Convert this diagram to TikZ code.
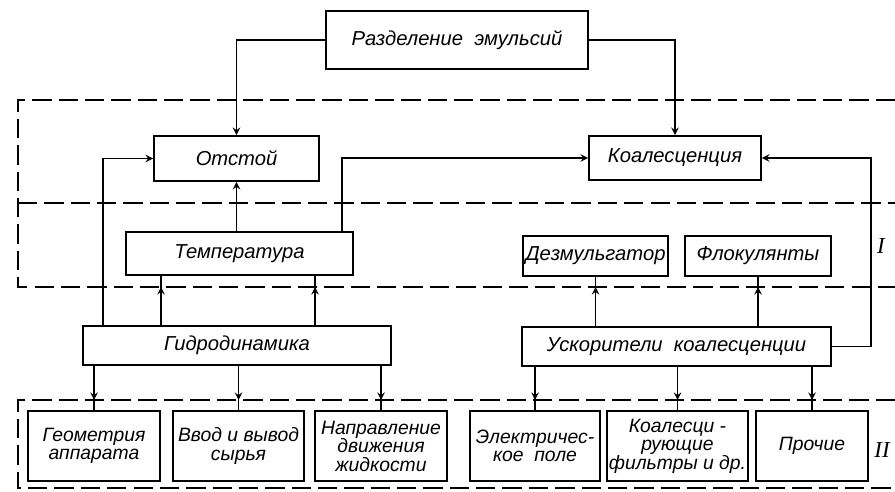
\documentclass[tikz,border=0pt]{standalone}
\usepackage{fontspec}
\setmainfont{Liberation Sans}
\newfontfamily\romanfont{Liberation Serif}
\usepackage{tikz}
\usetikzlibrary{arrows, positioning, calc}

\begin{document}
\begin{tikzpicture}[
    x=0.02cm, y=-0.02cm,
    box/.style={rectangle, draw, line width=1.1pt, align=center, inner sep=1pt, minimum height=0.86cm, font=\fontsize{11.5}{10.5}\selectfont\itshape},
    tall/.style={box, minimum height=1.4cm, font=\fontsize{11}{10.5}\selectfont\itshape},
    arrow/.style={line width=0.9pt,->,>=stealth},
    line/.style={line width=0.9pt},
    zone/.style={line width=0.8pt, dash pattern=on 11pt off 4pt}
]
\useasboundingbox (0,0) rectangle (895,492);

% zones I and II
\coordinate (Itop) at (18,100);
\coordinate (Imid) at (18,203);
\coordinate (Ibot) at (18,287);
\coordinate (IItop) at (18,400);
\coordinate (IIbot) at (18,488);
\draw[zone] (895,100) -- (Itop) -- (Ibot) -- (895,287);
\draw[zone] (Imid) -- (895,203);
\draw[zone] (895,400) -- (IItop) -- (IIbot) -- (895,488);

\node[box, minimum width=5.24cm, minimum height=1.16cm] (razd) at (457,40) {Разделение\ \ эмульсий};
\node[box, minimum width=3.3cm, minimum height=0.9cm] (otstoy) at (236.5,158.5) {Отстой};
\node[box, minimum width=3.44cm, minimum height=0.88cm] (koal) at (675,158) {Коалесценция};
\node[box, minimum width=4.54cm] (temp) at (239.5,253.5) {Температура};
\node[box, minimum width=6.16cm, minimum height=0.78cm] (gidro) at (237,345.5) {Гидродинамика};
\node[box, minimum width=2.9cm, minimum height=0.8cm] (dezm) at (595.5,256) {Дезмульгатор};
\node[box, minimum width=2.92cm, minimum height=0.8cm] (flok) at (758,256) {Флокулянты};
\node[box, minimum width=6.18cm, minimum height=0.78cm] (uskor) at (676.5,346.5) {Ускорители\ \ коалесценции};

\node[tall, minimum width=2.64cm] (geom) at (94,446) {Геометрия\\аппарата};
\node[tall, minimum width=2.62cm] (vvod) at (238.5,446) {Ввод и вывод\\сырья};
\node[tall, minimum width=2.64cm] (napr) at (381,446) {Направление\\движения\\жидкости};
\node[tall, minimum width=2.6cm] (elek) at (535,446) {Электричес-\\кое\ \ поле};
\node[tall, minimum width=2.62cm] (koalf) at (677.5,446) {Коалесци -\\рующие\\фильтры и др.};
\node[tall, minimum width=2.24cm] (proch) at (812,446) {Прочие};

\node[font=\fontsize{13}{13}\selectfont\romanfont\itshape] (lblI) at (881,246) {I};
\node[font=\fontsize{13}{13}\selectfont\romanfont\itshape] (lblII) at (882,450) {II};

\draw[arrow] (razd.west) -| (otstoy.north);
\draw[arrow] (razd.east) -| (koal.north);
\draw[arrow] (otstoy.south |- temp.north) -- (otstoy.south);
\draw[arrow] ([xshift=-0.24cm]temp.north east) |- (koal.west);
\draw[arrow] ([xshift=0.42cm]gidro.north west) |- (otstoy.west);
\draw[arrow] (uskor.east) -- ++(0.78cm,0) |- (koal.east);

\coordinate (g1) at ([xshift=1.58cm]gidro.north west);
\coordinate (g2) at ([xshift=4.66cm]gidro.north west);
\foreach \c in {g1,g2} {
  \draw[line] (\c) -- (\c |- temp.south);
  \draw[arrow] (\c) -- (\c |- Ibot);
}
\foreach \t in {dezm,flok} {
  \draw[line] (uskor.north -| \t.south) -- (\t.south);
  \draw[arrow] (uskor.north -| \t.south) -- (\t.south |- Ibot);
}
\foreach \t in {geom,vvod,napr} {
  \draw[line] (gidro.south -| \t.north) -- (\t.north);
  \draw[arrow] (gidro.south -| \t.north) -- (\t.north |- IItop);
}
\foreach \t in {elek,koalf,proch} {
  \draw[line] (uskor.south -| \t.north) -- (\t.north);
  \draw[arrow] (uskor.south -| \t.north) -- (\t.north |- IItop);
}

\end{tikzpicture}
\end{document}
